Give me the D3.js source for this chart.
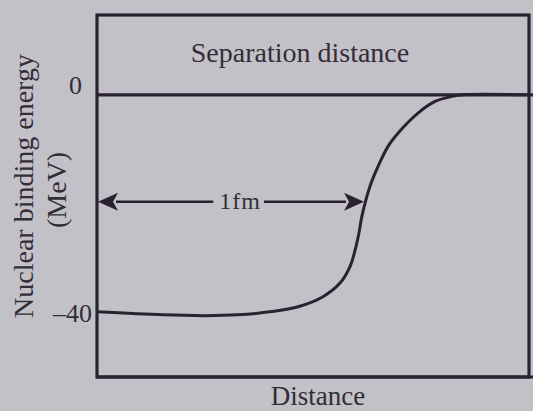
<!DOCTYPE html>
<html>
<head>
<meta charset="utf-8">
<script src="https://cdn.jsdelivr.net/npm/d3@7"></script>
<style>
  html, body { margin: 0; padding: 0; background: #c3c1c8; }
  svg { display: block; }
  text { font-family: "Liberation Serif", "Times New Roman", serif; fill: #332d37; }
</style>
</head>
<body>
<svg id="chart" width="533" height="411"></svg>
<script>
// Nuclear potential well: binding energy (MeV) against separation (fm)
const separationFm = [0, 0.244, 0.396, 0.522, 0.648, 0.748, 0.837, 0.900, 0.937, 0.956,
                      0.970, 0.981, 0.996, 1.015, 1.041, 1.078, 1.126, 1.189, 1.252, 1.315, 1.356, 1.6];
const bindingMeV   = [-40, -40.55, -40.7, -40.55, -39.95, -39.0, -37.2, -34.7, -31.65, -28.6,
                      -25.5, -22.4, -19.35, -16.3, -13.2, -9.5, -6.45, -3.37, -1.23, -0.3, 0, 0];
const energyTicks  = [0, -40];
const rangeSpanFm  = [0, 1];      // the "1fm" range marker
const rangeMarkerMeV = -19.7;

const ink = "#2a2230";
const svg = d3.select("#chart");

const frame = { left: 97, right: 529, top: 15, bottom: 377 };
const x = d3.scaleLinear().domain([0, 1.6]).range([frame.left, frame.right]);
const y = d3.scaleLinear().domain([-52, 14.7]).range([frame.bottom, frame.top]);

// outer box
svg.append("rect")
  .attr("x", frame.left).attr("y", frame.top)
  .attr("width", frame.right - frame.left).attr("height", frame.bottom - frame.top)
  .attr("fill", "none").attr("stroke", ink).attr("stroke-width", 3.2);

// bottom rule runs on to the edge
svg.append("line")
  .attr("x1", frame.left).attr("x2", 533)
  .attr("y1", frame.bottom).attr("y2", frame.bottom)
  .attr("stroke", ink).attr("stroke-width", 3.2);

// zero-energy line
svg.append("line")
  .attr("x1", frame.left).attr("x2", 533)
  .attr("y1", y(0)).attr("y2", y(0))
  .attr("stroke", ink).attr("stroke-width", 3.2);

// heading inside the box
svg.append("text")
  .attr("x", 300).attr("y", 62)
  .attr("text-anchor", "middle")
  .attr("font-size", 28)
  .text("Separation distance");

// energy axis labels
const yAxis = d3.axisLeft(y)
  .tickValues(energyTicks)
  .tickSize(0)
  .tickPadding(5)
  .tickFormat(d => d === 0 ? "0" : "\u2013" + Math.abs(d));
const gy = svg.append("g").attr("transform", `translate(${frame.left},0)`).call(yAxis);
gy.select(".domain").remove();
gy.selectAll("text")
  .attr("font-size", 26)
  .attr("font-family", "Liberation Serif, serif")
  .attr("fill", "#332d37")
  .attr("dy", d => d === 0 ? "-0.05em" : "0.38em")
  .attr("dx", d => d === 0 ? -10 : 0);

// potential curve
const pts = separationFm.map((d, i) => [d, bindingMeV[i]]);
svg.append("path")
  .datum(pts)
  .attr("fill", "none")
  .attr("stroke", ink)
  .attr("stroke-width", 3)
  .attr("stroke-linejoin", "round")
  .attr("d", d3.line().x(d => x(d[0])).y(d => y(d[1])).curve(d3.curveCatmullRom.alpha(0.5)));

// range marker: arrows either side of the "1fm" label
const ay = y(rangeMarkerMeV);
const xa = x(rangeSpanFm[0]) + 1, xb = x(rangeSpanFm[1]) - 3;
const headLen = 20, headHalf = 9;
const label = svg.append("text")
  .attr("x", x(0.53)).attr("y", ay + 7)
  .attr("text-anchor", "middle")
  .attr("font-size", 24)
  .attr("letter-spacing", 1)
  .text("1fm");
const bb = label.node().getBBox();
svg.append("line")
  .attr("x1", xa + headLen - 2).attr("x2", bb.x - 6)
  .attr("y1", ay).attr("y2", ay)
  .attr("stroke", ink).attr("stroke-width", 2.5);
svg.append("line")
  .attr("x1", bb.x + bb.width + 3).attr("x2", xb - headLen + 2)
  .attr("y1", ay).attr("y2", ay)
  .attr("stroke", ink).attr("stroke-width", 2.5);
svg.append("path")
  .attr("d", `M${xa},${ay} L${xa + headLen},${ay - headHalf} L${xa + headLen - 5},${ay} L${xa + headLen},${ay + headHalf} Z`)
  .attr("fill", ink);
svg.append("path")
  .attr("d", `M${xb},${ay} L${xb - headLen},${ay - headHalf} L${xb - headLen + 5},${ay} L${xb - headLen},${ay + headHalf} Z`)
  .attr("fill", ink);

// axis titles
svg.append("text")
  .attr("x", 318).attr("y", 405)
  .attr("text-anchor", "middle")
  .attr("font-size", 27)
  .text("Distance");

svg.append("text")
  .attr("transform", "translate(33,186) rotate(-90)")
  .attr("text-anchor", "middle")
  .attr("font-size", 28)
  .text("Nuclear binding energy");

svg.append("text")
  .attr("transform", "translate(66,190) rotate(-90)")
  .attr("text-anchor", "middle")
  .attr("font-size", 28)
  .text("(MeV)");
</script>
</body>
</html>
